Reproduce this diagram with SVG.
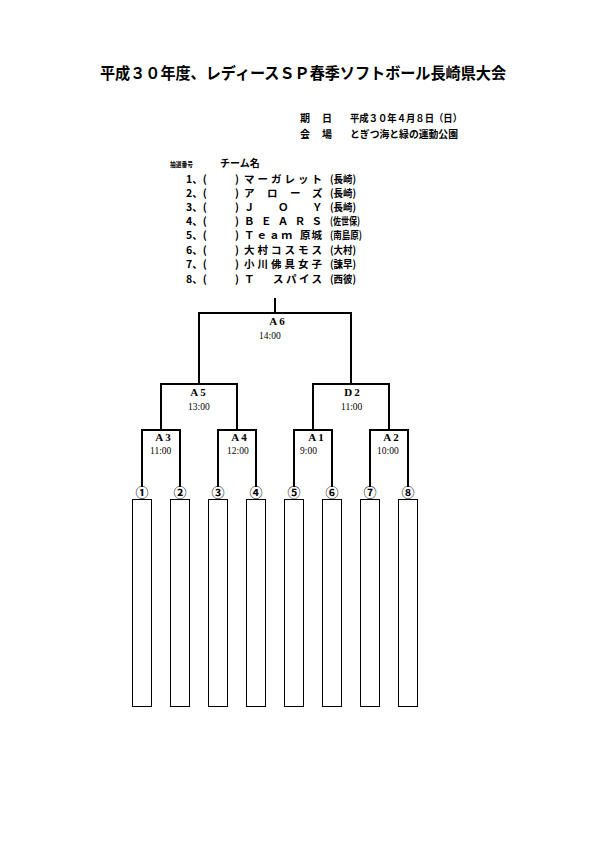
<svg xmlns="http://www.w3.org/2000/svg" width="595" height="842" viewBox="0 0 595 842">
<style>
text{font-family:"Noto Sans CJK JP","Liberation Sans",sans-serif;fill:#000;font-weight:bold}
.t{font-size:16px}
.h{font-size:10px}
.r{font-size:10.5px}
.s{font-size:7px}
.lb{font-family:"Liberation Serif","Noto Sans CJK JP",serif;font-size:11px;text-anchor:middle;letter-spacing:2px}
.tm{font-family:"Liberation Serif","Noto Sans CJK JP",serif;font-size:9.5px;font-weight:normal}
.cn{font-family:"Noto Sans CJK JP",sans-serif;font-size:13px;font-weight:bold;text-anchor:middle}
.ln{stroke:#000;stroke-width:2;fill:none}
.bx{stroke:#000;stroke-width:1;fill:#fff}
</style>
<rect width="595" height="842" fill="#fff"/>
<g id="title">
<text class="t" x="303" y="79" text-anchor="middle" textLength="406" lengthAdjust="spacingAndGlyphs">平成３０年度、レディースＳＰ春季ソフトボール長崎県大会</text>
</g>
<g id="info">
<text class="h" x="300" y="122">期</text><text class="h" x="322" y="122">日</text>
<text class="h" x="350" y="122" textLength="112" lengthAdjust="spacingAndGlyphs">平成３０年４月８日（日）</text>
<text class="h" x="300" y="138">会</text><text class="h" x="322" y="138">場</text>
<text class="h" x="350" y="138" textLength="108" lengthAdjust="spacingAndGlyphs">とぎつ海と緑の運動公園</text>
</g>
<g id="teams">
<text class="s" x="170" y="167" textLength="23" lengthAdjust="spacingAndGlyphs">抽選番号</text>
<text class="h" x="220" y="167">チーム名</text>
<text class="r" x="186" y="183">1、(</text><text class="r" x="235" y="183">)</text><text class="r" x="244" y="183" textLength="78" lengthAdjust="spacing">マーガレット</text><text class="r" x="330" y="183" textLength="26" lengthAdjust="spacingAndGlyphs">(長崎)</text>
<text class="r" x="186" y="197">2、(</text><text class="r" x="235" y="197">)</text><text class="r" x="244" y="197">ア</text><text class="r" x="267" y="197">ロ</text><text class="r" x="290" y="197">ー</text><text class="r" x="312" y="197">ズ</text><text class="r" x="330" y="197" textLength="26" lengthAdjust="spacingAndGlyphs">(長崎)</text>
<text class="r" x="186" y="211">3、(</text><text class="r" x="235" y="211">)</text><text class="r" x="244" y="211">Ｊ</text><text class="r" x="278" y="211">Ｏ</text><text class="r" x="312" y="211">Ｙ</text><text class="r" x="330" y="211" textLength="26" lengthAdjust="spacingAndGlyphs">(長崎)</text>
<text class="r" x="186" y="225">4、(</text><text class="r" x="235" y="225">)</text><text class="r" x="244" y="225" textLength="78" lengthAdjust="spacing">ＢＥＡＲＳ</text><text class="r" x="330" y="225" textLength="30" lengthAdjust="spacingAndGlyphs">(佐世保)</text>
<text class="r" x="186" y="239">5、(</text><text class="r" x="235" y="239">)</text><text class="r" x="244" y="239" textLength="48" lengthAdjust="spacing">Ｔｅａｍ</text><text class="r" x="300" y="239" textLength="22" lengthAdjust="spacing">原城</text><text class="r" x="330" y="239" textLength="32" lengthAdjust="spacingAndGlyphs">(南島原)</text>
<text class="r" x="186" y="254">6、(</text><text class="r" x="235" y="254">)</text><text class="r" x="244" y="254" textLength="78" lengthAdjust="spacing">大村コスモス</text><text class="r" x="330" y="254" textLength="26" lengthAdjust="spacingAndGlyphs">(大村)</text>
<text class="r" x="186" y="268">7、(</text><text class="r" x="235" y="268">)</text><text class="r" x="244" y="268" textLength="78" lengthAdjust="spacing">小川佛具女子</text><text class="r" x="330" y="268" textLength="26" lengthAdjust="spacingAndGlyphs">(諫早)</text>
<text class="r" x="186" y="283">8、(</text><text class="r" x="235" y="283">)</text><text class="r" x="244" y="283">Ｔ</text><text class="r" x="273" y="283" textLength="49" lengthAdjust="spacing">スパイス</text><text class="r" x="330" y="283" textLength="26" lengthAdjust="spacingAndGlyphs">(西彼)</text>
</g>
<g id="connectors">
<path class="ln" d="M275,298V313M199,384V313H351V384"/>
<path class="ln" d="M161,430V384H237V430M313,430V384H389V430"/>
<path class="ln" d="M142,487V430H180V487M218,487V430H256V487M294,487V430H332V487M370,487V430H408V487"/>
</g>
<g id="m-A6"><text class="lb" x="278" y="325">A6</text><text class="tm" x="259" y="339">14:00</text></g>
<g id="m-A5"><text class="lb" x="199" y="396">A5</text><text class="tm" x="188" y="410">13:00</text></g>
<g id="m-D2"><text class="lb" x="353" y="396">D2</text><text class="tm" x="341" y="410">11:00</text></g>
<g id="m-A3"><text class="lb" x="164" y="441">A3</text><text class="tm" x="150" y="454">11:00</text></g>
<g id="m-A4"><text class="lb" x="240" y="441">A4</text><text class="tm" x="227" y="454">12:00</text></g>
<g id="m-A1"><text class="lb" x="317" y="441">A1</text><text class="tm" x="300" y="454">9:00</text></g>
<g id="m-A2"><text class="lb" x="392" y="441">A2</text><text class="tm" x="377" y="454">10:00</text></g>
<g id="slots">
<text class="cn" x="142" y="497">①</text><rect class="bx" x="132.5" y="499.5" width="19" height="207"/>
<text class="cn" x="180" y="497">②</text><rect class="bx" x="170.5" y="499.5" width="19" height="207"/>
<text class="cn" x="218" y="497">③</text><rect class="bx" x="208.5" y="499.5" width="19" height="207"/>
<text class="cn" x="256" y="497">④</text><rect class="bx" x="246.5" y="499.5" width="19" height="207"/>
<text class="cn" x="294" y="497">⑤</text><rect class="bx" x="284.5" y="499.5" width="19" height="207"/>
<text class="cn" x="332" y="497">⑥</text><rect class="bx" x="322.5" y="499.5" width="19" height="207"/>
<text class="cn" x="370" y="497">⑦</text><rect class="bx" x="360.5" y="499.5" width="19" height="207"/>
<text class="cn" x="408" y="497">⑧</text><rect class="bx" x="398.5" y="499.5" width="19" height="207"/>
</g>
</svg>
